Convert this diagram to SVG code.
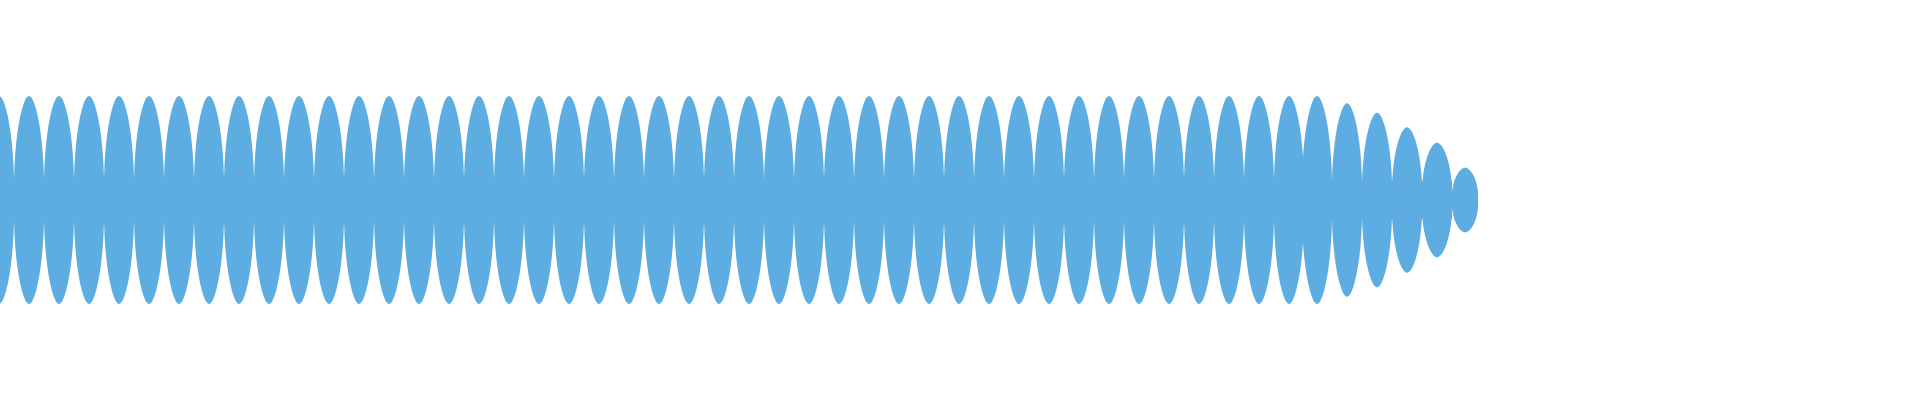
<svg xmlns="http://www.w3.org/2000/svg" width="1920" height="400" viewBox="0 0 1920 400">
<defs><path id="l" d="M0,-20 C1,-70 9,-104 15,-104 C21,-104 29,-70 30,-20 L30,20 C29,70 21,104 15,104 C9,104 1,70 0,20 Z"/></defs>
<style>use,rect{fill:#5dade2}</style>
<rect width="1920" height="400" fill="#fff" style="fill:#fff"/>
<rect x="0" y="181" width="1452" height="38"/>
<rect x="1452" y="190" width="20" height="20"/>
<g>
<use href="#l" transform="translate(-16,200)"/>
<use href="#l" transform="translate(14,200)"/><use href="#l" transform="translate(44,200)"/><use href="#l" transform="translate(74,200)"/><use href="#l" transform="translate(104,200)"/><use href="#l" transform="translate(134,200)"/><use href="#l" transform="translate(164,200)"/><use href="#l" transform="translate(194,200)"/><use href="#l" transform="translate(224,200)"/><use href="#l" transform="translate(254,200)"/><use href="#l" transform="translate(284,200)"/>
<use href="#l" transform="translate(314,200)"/><use href="#l" transform="translate(344,200)"/><use href="#l" transform="translate(374,200)"/><use href="#l" transform="translate(404,200)"/><use href="#l" transform="translate(434,200)"/><use href="#l" transform="translate(464,200)"/><use href="#l" transform="translate(494,200)"/><use href="#l" transform="translate(524,200)"/><use href="#l" transform="translate(554,200)"/><use href="#l" transform="translate(584,200)"/>
<use href="#l" transform="translate(614,200)"/><use href="#l" transform="translate(644,200)"/><use href="#l" transform="translate(674,200)"/><use href="#l" transform="translate(704,200)"/><use href="#l" transform="translate(734,200)"/><use href="#l" transform="translate(764,200)"/><use href="#l" transform="translate(794,200)"/><use href="#l" transform="translate(824,200)"/><use href="#l" transform="translate(854,200)"/><use href="#l" transform="translate(884,200)"/>
<use href="#l" transform="translate(914,200)"/><use href="#l" transform="translate(944,200)"/><use href="#l" transform="translate(974,200)"/><use href="#l" transform="translate(1004,200)"/><use href="#l" transform="translate(1034,200)"/><use href="#l" transform="translate(1064,200)"/><use href="#l" transform="translate(1094,200)"/><use href="#l" transform="translate(1124,200)"/><use href="#l" transform="translate(1154,200)"/><use href="#l" transform="translate(1184,200)"/>
<use href="#l" transform="translate(1214,200)"/><use href="#l" transform="translate(1244,200)"/><use href="#l" transform="translate(1274,200)"/><use href="#l" transform="translate(1302,200)"/>
<use href="#l" transform="translate(1332,200) scale(1,0.93)"/>
<use href="#l" transform="translate(1362,200) scale(1,0.84)"/>
<use href="#l" transform="translate(1392,200) scale(1,0.70)"/>
<use href="#l" transform="translate(1422,200) scale(1,0.55)"/>
<use href="#l" transform="translate(1452,200) scale(0.87,0.31)"/>
</g>
</svg>
